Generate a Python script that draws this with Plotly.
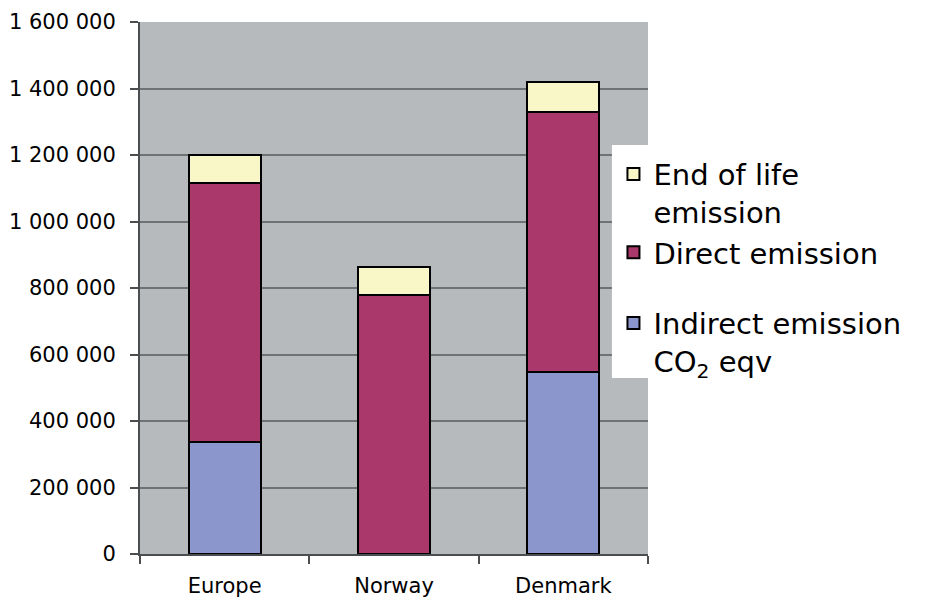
import plotly.graph_objects as go

# Emissions per region, stacked by source (CO2 equivalents)
regions = ["Europe", "Norway", "Denmark"]
indirect = [337000, 0, 548000]
direct = [778000, 780000, 780000]
end_of_life = [85000, 82000, 92000]

series_names = ["Indirect emission<br>CO<sub>2</sub> eqv", "Direct emission", "End of life<br>emission"]
series_values = [indirect, direct, end_of_life]
series_colors = ["#8b96cc", "#aa386a", "#f9f7c7"]
series_groups = ["b", "a", "a"]
series_ranks = [3, 2, 1]

y_ticks = [0, 200000, 400000, 600000, 800000, 1000000, 1200000, 1400000, 1600000]

FONT = "DejaVu Sans"

fig = go.Figure()
for name, vals, col, grp, rk in zip(series_names, series_values, series_colors, series_groups, series_ranks):
    fig.add_trace(go.Bar(
        x=regions, y=vals, name=name, legendgroup=grp, legendrank=rk,
        marker=dict(color=col, line=dict(color="black", width=2)),
    ))

# white panel behind the legend
fig.add_shape(type="rect", xref="paper", yref="paper",
              x0=0.929, x1=1.6, y0=0.331, y1=0.769,
              fillcolor="white", line=dict(width=0), layer="above")

fig.update_layout(
    width=938, height=602,
    margin=dict(l=140, r=290, t=22, b=48),
    barmode="stack", bargap=0.574,
    plot_bgcolor="#b7babd", paper_bgcolor="white",
    separators=", ",
    font=dict(family=FONT, color="black"),
    legend=dict(
        x=0.932, xanchor="left", y=0.762, yanchor="top",
        bgcolor="rgba(0,0,0,0)", traceorder="grouped",
        tracegroupgap=30, valign="top",
        font=dict(family=FONT, size=29, color="black"),
        itemwidth=30,
    ),
    xaxis=dict(
        type="category", tickson="boundaries", ticks="outside", ticklen=8,
        tickcolor="#4a4e50", tickwidth=1.5,
        showline=True, linecolor="#4a4e50", linewidth=2,
        tickfont=dict(family=FONT, size=21, color="black"),
        ticklabelstandoff=12, showgrid=False, automargin=False,
    ),
    yaxis=dict(
        range=[0, 1600000], tickvals=y_ticks, tickformat=",d",
        ticks="outside", ticklen=8, tickcolor="#4a4e50", tickwidth=1.5,
        showline=True, linecolor="#4a4e50", linewidth=2,
        showgrid=True, gridcolor="#6e7275", gridwidth=1.5,
        zeroline=False, automargin=False,
        tickfont=dict(family=FONT, size=21, color="black"),
        ticklabelstandoff=10,
    ),
)

fig.write_html("out.html")
